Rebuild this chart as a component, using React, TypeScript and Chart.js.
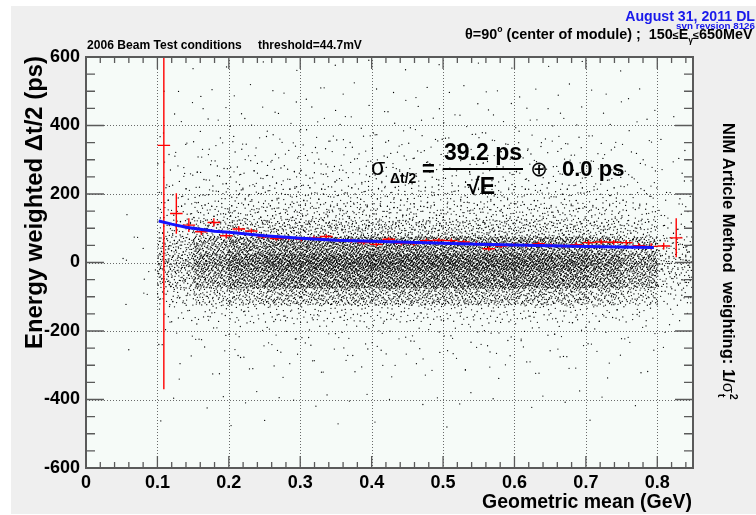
import React, { useEffect, useRef } from "react";
import { Chart, registerables } from "chart.js";

Chart.register(...registerables);

const FONT = "'Liberation Sans', Arial, Helvetica, 'DejaVu Sans', sans-serif";

// ---------- axes ----------
const X_MIN = 0;
const X_MAX = 0.85;
const Y_MIN = -600;
const Y_MAX = 600;
const xTickValues = [0, 0.1, 0.2, 0.3, 0.4, 0.5, 0.6, 0.7, 0.8];
const xTickLabels = ["0", "0.1", "0.2", "0.3", "0.4", "0.5", "0.6", "0.7", "0.8"];
const yTickValues = [-600, -400, -200, 0, 200, 400, 600];
const yTickLabels = ["-600", "-400", "-200", "0", "200", "400", "600"];
const xGridValues = [0.1, 0.2, 0.3, 0.4, 0.5, 0.6, 0.7, 0.8];
const yGridValues = [-400, -200, 0, 200, 400];
const X_MINOR_STEP = 0.02;
const Y_MINOR_STEP = 50;

// ---------- profile (red crosses) ----------
const profileX = [
  0.109, 0.1265, 0.144, 0.1615, 0.179, 0.1965, 0.214, 0.2315, 0.249, 0.2665,
  0.284, 0.3015, 0.319, 0.3365, 0.354, 0.3715, 0.389, 0.4065, 0.424, 0.4415,
  0.459, 0.4765, 0.494, 0.5115, 0.529, 0.5465, 0.564, 0.5815, 0.599, 0.6165,
  0.634, 0.6515, 0.669, 0.6865, 0.704, 0.7215, 0.739, 0.7565, 0.774, 0.7915,
  0.809, 0.8265,
];
const profileY = [
  342, 143, 109, 90, 117, 78, 98, 92, 75, 70,
  71, 68, 72, 76, 65, 63, 58, 53, 68, 56,
  55, 64, 65, 64, 60, 55, 40, 48, 52, 50,
  55, 50, 48, 52, 58, 60, 59, 58, 49, 47,
  48, 72,
];
const profileYErr = [
  712, 59, 20, 10, 12, 8, 8, 7, 6, 6,
  6, 6, 6, 6, 6, 6, 6, 6, 6, 6,
  6, 6, 6, 6, 6, 6, 6, 6, 6, 6,
  6, 6, 6, 7, 7, 7, 7, 8, 8, 9,
  10, 57,
];
const PROFILE_HALF_WIDTH = 0.0088;

// ---------- fit (blue line) ----------
const fitX = [0.102, 0.12, 0.14, 0.16, 0.18, 0.2, 0.25, 0.3, 0.35, 0.4, 0.45, 0.5, 0.55, 0.6, 0.65, 0.7, 0.75, 0.795];
const fitY = [121, 112, 103, 97, 91, 88, 78, 71, 65, 62, 59, 56, 53, 51, 49, 47, 45, 44];

// ---------- scatter cloud: counts per bin ----------
const CLOUD_DX = 0.05;
const CLOUD_DY = 50;
const cloudXStart = [0.05, 0.1, 0.15, 0.2, 0.25, 0.3, 0.35, 0.4, 0.45, 0.5, 0.55, 0.6, 0.65, 0.7, 0.75, 0.8];
const cloudYStart = [550, 500, 450, 400, 350, 300, 250, 200, 150, 100, 50, 0, -50, -100, -150, -200, -250, -300, -350, -400, -450, -500, -550, -600];
const cloudCounts = [
  [0, 0, 0, 0, 0, 0, 0, 0, 0, 1, 2, 3, 3, 2, 1, 0, 0, 1, 0, 0, 0, 0, 0, 0],
  [1, 1, 1, 2, 3, 5, 7, 12, 18, 30, 55, 110, 110, 60, 18, 6, 3, 2, 1, 1, 0, 1, 0, 0],
  [1, 1, 2, 2, 4, 6, 10, 16, 26, 48, 100, 220, 215, 110, 28, 8, 4, 2, 1, 1, 1, 0, 0, 0],
  [1, 1, 2, 3, 4, 7, 11, 18, 30, 55, 120, 300, 300, 150, 32, 9, 4, 3, 2, 1, 1, 1, 0, 0],
  [1, 1, 2, 3, 5, 8, 12, 20, 32, 58, 125, 350, 360, 190, 38, 10, 5, 3, 2, 1, 1, 1, 0, 0],
  [1, 2, 2, 3, 5, 8, 13, 21, 33, 58, 125, 370, 370, 200, 38, 10, 5, 3, 2, 1, 1, 0, 0, 0],
  [1, 1, 2, 3, 5, 8, 12, 20, 32, 56, 120, 370, 375, 205, 40, 11, 5, 3, 2, 1, 1, 1, 0, 0],
  [1, 1, 2, 3, 5, 9, 13, 21, 32, 55, 118, 375, 375, 200, 38, 10, 5, 3, 2, 1, 0, 1, 0, 0],
  [1, 1, 2, 3, 5, 8, 12, 20, 31, 54, 115, 370, 375, 205, 38, 10, 4, 3, 2, 1, 1, 0, 0, 0],
  [1, 1, 2, 3, 5, 8, 12, 20, 30, 52, 112, 365, 375, 205, 37, 10, 5, 3, 1, 1, 1, 1, 0, 0],
  [1, 1, 2, 3, 4, 8, 12, 19, 30, 52, 110, 360, 370, 200, 36, 10, 5, 3, 2, 1, 0, 0, 0, 0],
  [1, 1, 2, 3, 4, 7, 11, 18, 29, 50, 108, 350, 360, 195, 35, 9, 4, 3, 2, 1, 1, 0, 0, 0],
  [1, 1, 2, 3, 4, 7, 11, 18, 28, 48, 102, 320, 335, 180, 33, 9, 4, 3, 2, 1, 1, 0, 0, 0],
  [1, 1, 1, 2, 4, 6, 9, 15, 24, 42, 90, 275, 285, 150, 28, 8, 4, 2, 1, 1, 0, 1, 0, 0],
  [0, 1, 1, 2, 3, 4, 7, 11, 18, 30, 66, 200, 205, 105, 20, 6, 3, 2, 1, 1, 0, 0, 0, 0],
  [0, 0, 0, 1, 1, 2, 3, 4, 6, 10, 22, 65, 65, 35, 7, 3, 1, 1, 0, 0, 0, 0, 0, 0],
];

// Lay each bin's count out inside its bin column, box-smoothed in y over the
// neighbouring half bins, using a deterministic Halton low-discrepancy layout.
function halton(i: number, b: number) {
  let f = 1;
  let r = 0;
  while (i > 0) {
    f /= b;
    r += f * (i % b);
    i = Math.floor(i / b);
  }
  return r;
}
function buildCloud() {
  const pts: { x: number; y: number }[] = [];
  cloudCounts.forEach((col, c) => {
    col.forEach((n, r) => {
      const start = (c * 24 + r) * 1013 + 7;
      for (let i = 0; i < n; i++) {
        const u = halton(start + i, 2);
        const v = halton(start + i, 3);
        pts.push({
          x: cloudXStart[c] + u * CLOUD_DX,
          y: cloudYStart[r] + (v * 2 - 0.5) * CLOUD_DY,
        });
      }
    });
  });
  return pts;
}

// ---------- text helpers ----------
function fitSize(ctx: CanvasRenderingContext2D, text: string, weight: string, target: number) {
  ctx.font = `${weight} 100px ${FONT}`;
  return (100 * target) / ctx.measureText(text).width;
}

type Run = { t: string; s?: number; dy?: number; w?: string };
function richWidth(ctx: CanvasRenderingContext2D, runs: Run[], size: number) {
  let w = 0;
  for (const r of runs) {
    ctx.font = `${r.w ?? "bold"} ${size * (r.s ?? 1)}px ${FONT}`;
    w += ctx.measureText(r.t).width;
  }
  return w;
}
function drawRich(ctx: CanvasRenderingContext2D, runs: Run[], x: number, y: number, size: number) {
  let cx = x;
  ctx.textAlign = "left";
  for (const r of runs) {
    ctx.font = `${r.w ?? "bold"} ${size * (r.s ?? 1)}px ${FONT}`;
    ctx.fillText(r.t, cx, y + (r.dy ?? 0) * size);
    cx += ctx.measureText(r.t).width;
  }
  return cx;
}

const rootPlugin = {
  id: "rootStyle",
  beforeDraw(chart: any) {
    const { ctx, chartArea: a, width, height } = chart;
    ctx.save();
    ctx.fillStyle = "#ffffff";
    ctx.fillRect(0, 0, width, height);
    ctx.fillStyle = "#efefef";
    ctx.fillRect(11, 6, width - 11, height - 7);
    ctx.fillStyle = "rgb(246,251,248)";
    ctx.fillRect(a.left, a.top, a.right - a.left, a.bottom - a.top);
    ctx.restore();
  },
  beforeDatasetsDraw(chart: any) {
    const { ctx, chartArea: a, scales } = chart;
    ctx.save();
    ctx.strokeStyle = "rgba(90,90,90,0.9)";
    ctx.lineWidth = 1;
    ctx.setLineDash([1, 2]);
    for (const v of xGridValues) {
      const px = Math.round(scales.x.getPixelForValue(v)) + 0.5;
      ctx.beginPath();
      ctx.moveTo(px, a.top);
      ctx.lineTo(px, a.bottom);
      ctx.stroke();
    }
    for (const v of yGridValues) {
      const py = Math.round(scales.y.getPixelForValue(v)) + 0.5;
      ctx.beginPath();
      ctx.moveTo(a.left, py);
      ctx.lineTo(a.right, py);
      ctx.stroke();
    }
    ctx.restore();
  },
  afterDatasetDraw(chart: any, args: any) {
    if (args.index !== 1) return;
    const { ctx, chartArea: a, scales } = chart;
    ctx.save();
    ctx.beginPath();
    ctx.rect(a.left, a.top, a.right - a.left, a.bottom - a.top);
    ctx.clip();
    ctx.strokeStyle = "#ff0000";
    ctx.lineWidth = 1.4;
    profileX.forEach((x, i) => {
      const y = profileY[i];
      const e = profileYErr[i];
      const px = scales.x.getPixelForValue(x);
      const py = scales.y.getPixelForValue(y);
      ctx.beginPath();
      ctx.moveTo(scales.x.getPixelForValue(x - PROFILE_HALF_WIDTH), py);
      ctx.lineTo(scales.x.getPixelForValue(x + PROFILE_HALF_WIDTH), py);
      ctx.moveTo(px, scales.y.getPixelForValue(y + e));
      ctx.lineTo(px, scales.y.getPixelForValue(y - e));
      ctx.stroke();
    });
    ctx.restore();
  },
  afterDraw(chart: any) {
    const { ctx, chartArea: a, scales } = chart;
    ctx.save();
    // frame
    ctx.strokeStyle = "#5a5a5a";
    ctx.lineWidth = 2;
    ctx.strokeRect(a.left, a.top, a.right - a.left, a.bottom - a.top);
    // ticks
    ctx.lineWidth = 1.3;
    ctx.beginPath();
    for (let v = X_MIN; v <= X_MAX + 1e-9; v += X_MINOR_STEP) {
      const isMajor = Math.abs(v * 10 - Math.round(v * 10)) < 1e-6;
      const len = isMajor ? 12 : 6;
      const px = scales.x.getPixelForValue(v);
      ctx.moveTo(px, a.bottom);
      ctx.lineTo(px, a.bottom - len);
      ctx.moveTo(px, a.top);
      ctx.lineTo(px, a.top + len);
    }
    for (let v = Y_MIN; v <= Y_MAX; v += Y_MINOR_STEP) {
      const isMajor = v % 200 === 0;
      const len = isMajor ? 18 : 9;
      const py = scales.y.getPixelForValue(v);
      ctx.moveTo(a.left, py);
      ctx.lineTo(a.left + len, py);
      ctx.moveTo(a.right, py);
      ctx.lineTo(a.right - len, py);
    }
    ctx.stroke();

    ctx.fillStyle = "#000";
    ctx.textBaseline = "alphabetic";

    // header left
    ctx.textAlign = "left";
    let s = fitSize(ctx, "2006 Beam Test conditions", "bold", 155);
    ctx.font = `bold ${s}px ${FONT}`;
    ctx.fillText("2006 Beam Test conditions", 87, 48.5);
    s = fitSize(ctx, "threshold=44.7mV", "bold", 104);
    ctx.font = `bold ${s}px ${FONT}`;
    ctx.fillText("threshold=44.7mV", 258, 48.5);

    // header right (blue)
    ctx.fillStyle = "rgb(25,25,235)";
    ctx.textAlign = "right";
    s = fitSize(ctx, "August 31, 2011 DL", "bold", 130);
    ctx.font = `bold ${s}px ${FONT}`;
    ctx.fillText("August 31, 2011 DL", 755, 21);
    s = fitSize(ctx, "svn revsion 8126", "bold", 79);
    ctx.font = `bold ${s}px ${FONT}`;
    ctx.fillText("svn revsion 8126", 755, 28.5);

    // theta line
    ctx.fillStyle = "#000";
    const thetaRuns: Run[] = [
      { t: "θ=90" },
      { t: "o", s: 0.6, dy: -0.45 },
      { t: " (center of module) ;  150" },
      { t: "≤", s: 0.75 },
      { t: "E" },
      { t: "γ", s: 0.6, dy: 0.3 },
      { t: "≤", s: 0.75 },
      { t: "650MeV" },
    ];
    const wt = richWidth(ctx, thetaRuns, 100);
    const ts = (100 * 288) / wt;
    drawRich(ctx, thetaRuns, 753 - 288, 38.5, ts);

    // formula
    ctx.textAlign = "left";
    ctx.font = `23px ${FONT}`;
    ctx.fillText("σ", 371, 175);
    ctx.font = `bold 14px ${FONT}`;
    ctx.fillText("Δt/2", 390, 183);
    ctx.font = `bold 22px ${FONT}`;
    ctx.fillText("=", 422, 176);
    ctx.textAlign = "center";
    ctx.font = `bold 23px ${FONT}`;
    ctx.fillText("39.2 ps", 483, 160);
    ctx.fillRect(443, 168, 80, 2);
    ctx.font = `bold 23px ${FONT}`;
    ctx.fillText("√E", 481, 194);
    ctx.font = `21px 'DejaVu Sans', ${FONT}`;
    ctx.fillText("⊕", 539, 176);
    ctx.textAlign = "left";
    ctx.font = `bold 22px ${FONT}`;
    ctx.fillText("0.0 ps", 562, 176);

    // x title
    ctx.textAlign = "right";
    s = fitSize(ctx, "Geometric mean (GeV)", "bold", 210);
    ctx.font = `bold ${s}px ${FONT}`;
    ctx.fillText("Geometric mean (GeV)", 692, 508);

    // y title
    ctx.save();
    ctx.translate(42, 56);
    ctx.rotate(-Math.PI / 2);
    ctx.textAlign = "right";
    s = fitSize(ctx, "Energy weighted Δt/2 (ps)", "bold", 293);
    ctx.font = `bold ${s}px ${FONT}`;
    ctx.fillText("Energy weighted Δt/2 (ps)", 0, 0);
    ctx.restore();

    // right title
    ctx.save();
    ctx.translate(723, 123);
    ctx.rotate(Math.PI / 2);
    ctx.textAlign = "left";
    const rs = fitSize(ctx, "NIM Article Method  weighting: 1/", "bold", 260);
    ctx.font = `bold ${rs}px ${FONT}`;
    ctx.fillText("NIM Article Method  weighting: 1/", 0, 0);
    let cx = ctx.measureText("NIM Article Method  weighting: 1/").width;
    ctx.font = `${rs}px ${FONT}`;
    ctx.fillText("σ", cx, 0);
    cx += ctx.measureText("σ").width;
    ctx.font = `bold ${rs * 0.65}px ${FONT}`;
    ctx.fillText("t", cx + 1, rs * 0.3);
    ctx.fillText("2", cx + 1, -rs * 0.45);
    ctx.restore();

    ctx.restore();
  },
};

export default function App() {
  const ref = useRef<HTMLCanvasElement | null>(null);
  useEffect(() => {
    if (!ref.current) return;
    const cloud = buildCloud();
    const chart = new Chart(ref.current, {
      type: "scatter",
      data: {
        datasets: [
          {
            type: "line",
            label: "fit",
            data: fitX.map((x, i) => ({ x, y: fitY[i] })),
            borderColor: "rgb(20,20,255)",
            borderWidth: 3,
            pointRadius: 0,
            fill: false,
            tension: 0,
          } as any,
          {
            type: "scatter",
            label: "events",
            data: cloud,
            pointRadius: 0.65,
            pointBackgroundColor: "#000",
            backgroundColor: "#000",
            pointBorderWidth: 0,
            borderWidth: 0,
          } as any,
        ],
      },
      options: {
        responsive: false,
        animation: false,
        devicePixelRatio: 1,
        events: [],
        layout: { padding: { left: 8, top: 57, right: 63, bottom: 0 } },
        plugins: { legend: { display: false }, tooltip: { enabled: false } },
        scales: {
          x: {
            type: "linear",
            min: X_MIN,
            max: X_MAX,
            grid: { display: false, drawTicks: false },
            border: { display: false },
            afterFit: (sc: any) => {
              sc.height = 47;
            },
            afterBuildTicks: (sc: any) => {
              sc.ticks = xTickValues.map((v) => ({ value: v }));
            },
            ticks: {
              padding: 4,
              color: "#000",
              autoSkip: false,
              maxRotation: 0,
              font: { family: FONT, weight: "bold", size: 18 },
              callback: (_v: any, i: number) => xTickLabels[i],
            },
          },
          y: {
            type: "linear",
            min: Y_MIN,
            max: Y_MAX,
            grid: { display: false, drawTicks: false },
            border: { display: false },
            afterFit: (sc: any) => {
              sc.width = 78;
            },
            afterBuildTicks: (sc: any) => {
              sc.ticks = yTickValues.map((v) => ({ value: v }));
            },
            ticks: {
              padding: 6,
              color: "#000",
              autoSkip: false,
              font: { family: FONT, weight: "bold", size: 18 },
              callback: (_v: any, i: number) => yTickLabels[i],
            },
          },
        },
      } as any,
      plugins: [rootPlugin as any],
    });
    return () => chart.destroy();
  }, []);
  return (
    <div style={{ position: "absolute", left: 0, top: 0, width: 756, height: 515 }}>
      <canvas ref={ref} width={756} height={515} style={{ display: "block" }} />
    </div>
  );
}
